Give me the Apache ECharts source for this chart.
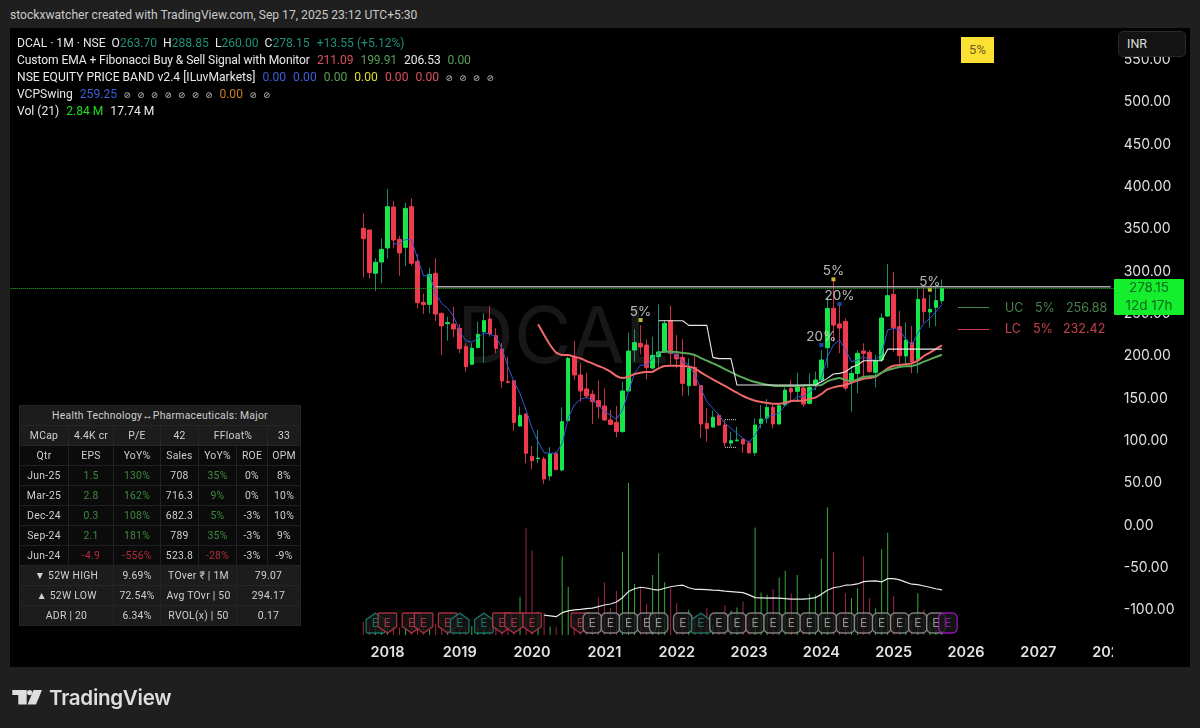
<!DOCTYPE html>
<html><head><meta charset="utf-8">
<script src="https://cdn.jsdelivr.net/npm/echarts@6/dist/echarts.min.js"></script>
<style>
html,body{margin:0;padding:0;background:#1f1f1f;width:1200px;height:728px;overflow:hidden;font-family:Roboto,"Liberation Sans",sans-serif;}
.abs{position:absolute;white-space:nowrap;}
#pane{left:10px;top:28px;width:1180px;height:639px;background:#000;}
#wm{left:457px;top:286px;font-family:Inter;font-size:79px;color:#171717;}
#chart{position:absolute;left:0;top:0;width:1200px;height:728px;}
.lg{left:17px;font-size:12.1px;line-height:17px;color:#e8e8e8;}
.lg span{margin-left:7px;}
.t{color:#1f8f78;} .r{color:#d9505c;} .g{color:#5a9e58;} .b{color:#3c5ed6;} .y{color:#e4dd2c;} .o{color:#cc7d1f;} .bg{color:#1ee01e;}
.na{font-size:8.5px;color:#ccc;margin-left:6.5px!important;font-family:"DejaVu Sans";}
#tb{left:19px;top:405px;border-collapse:collapse;table-layout:fixed;width:281px;font-size:10.4px;color:#cfcfcf;}
#tb td{height:19px;padding:0;text-align:center;border:1px solid #222;background:#0b0b0b;letter-spacing:.25px;overflow:hidden;}
#tb tr.h td{background:#1c1c1c;border-color:#252525;}
#tb .up{color:#3f8a3f;} #tb .dn{color:#b02c3c;}
</style></head><body>
<div class="abs" style="left:10px;top:8px;font-size:12.1px;color:#c9c9c9;">stockxwatcher created with TradingView.com, Sep 17, 2025 23:12 UTC+5:30</div>
<div class="abs" id="pane"></div>
<div class="abs" id="wm">DCAL</div>
<div id="chart"></div>

<div class="abs lg" style="top:35px;">DCAL · 1M · NSE &nbsp;O<b class="t" style="font-weight:400">263.70</b> &nbsp;H<b class="t" style="font-weight:400">288.85</b> &nbsp;L<b class="t" style="font-weight:400">260.00</b> &nbsp;C<b class="t" style="font-weight:400">278.15</b><span class="t">+13.55 (+5.12%)</span></div>
<div class="abs lg" style="top:52px;letter-spacing:-.1px;">Custom EMA + Fibonacci Buy &amp; Sell Signal with Monitor<span class="r">211.09</span><span class="g">199.91</span><span>206.53</span><span class="g">0.00</span></div>
<div class="abs lg" style="top:69px;">NSE EQUITY PRICE BAND v2.4 [ILuvMarkets]<span class="b">0.00</span><span class="b">0.00</span><span class="g">0.00</span><span class="y">0.00</span><span class="r">0.00</span><span class="r">0.00</span><span class="na">⊘</span><span class="na">⊘</span><span class="na">⊘</span><span class="na">⊘</span></div>
<div class="abs lg" style="top:86px;">VCPSwing<span class="b">259.25</span><span class="na">⊘</span><span class="na">⊘</span><span class="na">⊘</span><span class="na">⊘</span><span class="na">⊘</span><span class="na">⊘</span><span class="na">⊘</span><span class="o">0.00</span><span class="na">⊘</span><span class="na">⊘</span></div>
<div class="abs lg" style="top:103px;">Vol (21)<span class="bg">2.84 M</span><span>17.74 M</span></div>

<div class="abs" style="left:961px;top:37px;width:33px;height:26px;background:#fde132;color:#6a5e1e;font-size:13px;line-height:26px;text-align:center;">5%</div>
<div class="abs" style="left:1118px;top:31px;width:68px;height:26px;box-sizing:border-box;background:#131313;border:1px solid #2b2b2b;border-radius:5px;color:#ddd;font-size:12.5px;line-height:24px;padding-left:8px;">INR</div>
<div class="abs" style="left:1114px;top:279px;width:70px;height:36px;background:#15ee2c;color:#0c6a20;font-family:Inter;font-size:13.5px;line-height:17.5px;text-align:center;border-radius:1px;">278.15<br>12d 17h</div>
<div class="abs" style="left:1113px;top:640px;width:30px;height:26px;background:#000;"></div>

<div class="abs" style="left:958px;top:307px;width:31px;height:1px;background:#3f8a3f;"></div>
<div class="abs" style="left:958px;top:329px;width:31px;height:1px;background:#d03a47;"></div>
<div class="abs" style="left:1005px;top:300px;font-family:Inter;font-size:12.5px;color:#4b7f4b;">UC</div><div class="abs" style="left:1035px;top:300px;font-family:Inter;font-size:12.5px;color:#4b7f4b;">5%</div><div class="abs" style="left:1066px;top:300px;font-family:Inter;font-size:12.5px;color:#4b7f4b;">256.88</div>
<div class="abs" style="left:1005px;top:321px;font-family:Inter;font-size:12.5px;color:#c8404c;">LC</div><div class="abs" style="left:1033px;top:321px;font-family:Inter;font-size:12.5px;color:#c8404c;">5%</div><div class="abs" style="left:1063px;top:321px;font-family:Inter;font-size:12.5px;color:#c8404c;">232.42</div>

<table class="abs" id="tb">
<colgroup><col style="width:49px"><col style="width:45px"><col style="width:47px"><col style="width:38px"><col style="width:38px"><col style="width:31px"><col style="width:33px"></colgroup>
<tr class="h"><td colspan="7">Health Technology↔Pharmaceuticals: Major</td></tr>
<tr class="h"><td>MCap</td><td>4.4K cr</td><td>P/E</td><td>42</td><td colspan="2">FFloat%</td><td>33</td></tr>
<tr><td>Qtr</td><td>EPS</td><td>YoY%</td><td>Sales</td><td>YoY%</td><td>ROE</td><td>OPM</td></tr>
<tr><td>Jun-25</td><td class="up">1.5</td><td class="up">130%</td><td>708</td><td class="up">35%</td><td>0%</td><td>8%</td></tr>
<tr><td>Mar-25</td><td class="up">2.8</td><td class="up">162%</td><td>716.3</td><td class="up">9%</td><td>0%</td><td>10%</td></tr>
<tr><td>Dec-24</td><td class="up">0.3</td><td class="up">108%</td><td>682.3</td><td class="up">5%</td><td>-3%</td><td>10%</td></tr>
<tr><td>Sep-24</td><td class="up">2.1</td><td class="up">181%</td><td>789</td><td class="up">35%</td><td>-3%</td><td>9%</td></tr>
<tr><td>Jun-24</td><td class="dn">-4.9</td><td class="dn">-556%</td><td>523.8</td><td class="dn">-28%</td><td>-3%</td><td>-9%</td></tr>
<tr class="h"><td colspan="2">▼ 52W HIGH</td><td>9.69%</td><td colspan="2">TOver ₹ | 1M</td><td colspan="2">79.07</td></tr>
<tr class="h"><td colspan="2">▲ 52W LOW</td><td>72.54%</td><td colspan="2">Avg TOvr | 50</td><td colspan="2">294.17</td></tr>
<tr class="h"><td colspan="2">ADR | 20</td><td>6.34%</td><td colspan="2">RVOL(x) | 50</td><td colspan="2">0.17</td></tr>
</table>

<svg class="abs" style="left:0;top:680px;" width="50" height="30"><path d="M12.3 10H26.7V24.5H18.3V15H12.3Z M33.5 10H42L36 24.5H27.5Z" fill="#dedede"/><circle cx="29.6" cy="12.6" r="2.7" fill="#dedede"/></svg>
<div class="abs" style="left:49px;top:685px;font-family:Inter;font-size:20.6px;font-weight:600;color:#dedede;letter-spacing:-.3px;">TradingView</div>

<script>
const firstCandleIndex = 58;
const opens=[349.2,347.2,296.1,309.4,326.0,374.4,336.2,326.8,374.8,310.2,261.8,259.4,296.1,248.8,236.6,236.2,231.1,209.4,188.6,208.3,227.2,242.1,222.4,206.7,168.1,169.3,115.8,129.9,79.9,77.2,76.8,56.7,83.1,63.8,122,197.6,176,159.5,153.2,145.7,139.4,122.8,120.1,109.1,157.1,205.5,213.4,211.4,184.2,197.6,203.5,240.1,200.4,196.8,163.4,185,163.4,118.9,114.5,128.3,116.9,95.6,98.4,100,95.6,84.2,118.5,125.2,137.8,118.1,140.5,160.2,156.7,160.6,142.5,164.2,170.1,208.2,254.7,236.2,239.3,168.5,177.9,204.3,202.7,179.1,193.7,245.6,271.2,233,198.4,214.2,194.5,266.1,250.4,255.9,263.7];
const closes=[337.0,296.9,309.1,324.4,374.8,335.4,320.1,372.8,307.9,261.4,259.1,294.9,248.0,233.9,237.8,230.3,207.1,185.8,207.5,224.0,240.2,224.4,207.5,168.9,167.3,119.7,128.3,83.5,74.8,78.0,53.2,82.7,64.2,120.9,195.7,176,157.1,151.2,144.5,138.6,122.8,117.7,109.1,157.1,204.3,214.2,209.1,185,199.2,203.1,237,201.6,194.9,166.1,184.2,163.8,118.1,112.6,126,116.9,96,98.4,99.2,94.5,84.2,116.9,124,137.8,118.1,139.7,158.2,155.9,161.8,141.7,161.4,170.1,193.7,254.7,235,231.5,160.6,177.9,201.6,201.6,179.9,192.9,243.3,269.7,231.9,198.8,217.3,191.7,265.3,250.8,253.5,263.8,278.15];
const lows=[291.0,290.2,275.2,284.3,313.8,325.6,293.3,304.7,305.1,254.7,248.0,248.8,239.8,199.6,216.5,220.5,201.6,179.9,187.8,207.5,190.6,221.3,201.6,161.0,166.1,110.2,115.0,71.7,64.6,71.7,47.3,51.2,63.8,62,121,170.1,144.5,148.4,118.1,124.8,122,116.9,102.4,108,156,191.7,200.4,170.9,182.7,185.8,201.6,187.8,183.8,151.6,151.6,163,101.2,97.2,114,116,91.3,91.3,97.2,84.2,82.7,80.7,113,118.9,113,117.7,138.6,146.4,143.7,138.6,141.3,158.2,168.1,184.6,215.3,201.6,157.5,132.7,154.3,174,178.7,161.4,191.7,244.9,203.5,189.7,187.8,177.9,177.9,237.8,231.9,233.8,260];
const highs=[366.9,348,313.8,337.4,395.7,381.5,340.2,379.5,384.6,318.9,272.4,302.8,313.8,249.6,244.9,256.7,236.2,213.4,213.4,239.0,248.8,257.5,231.1,213.4,197.6,170.1,138.6,130.7,92.1,111.0,79.5,90.6,85.4,137.8,197.6,216.1,189.8,178.7,158.3,169.3,160.2,134.6,139.4,168.1,226,229.9,235,218.1,221.2,259.4,240.9,257.9,223.2,218.1,195.6,199.6,164.2,136.6,133.8,130.7,122.8,109,114.9,101.2,98.4,124.8,140.5,147.6,140.5,142.5,161.4,170.1,178.7,163,177.9,179.9,205.5,267.3,288.2,258.6,242.9,186.6,205.5,213.4,205.5,199.6,248.8,307.1,298,251.6,238.2,234.2,278.3,279.5,270.5,280.3,288.85];
const volumes=[5.2,3,3,2,6,4,3,2.5,3,4,3,2,4.5,3,2,2,3,3,3.5,3,3,3,3,2.5,2,5,15.1,42,33.2,9.2,8.7,3.3,3.2,30.9,19,5.9,6,5,5,14.8,20.8,10.5,17.3,32.8,59.8,20.1,18.4,12.2,23.6,32.2,20.8,18.4,12.7,6,9.9,6,5,10.5,4,4,11.8,9.6,10.8,13.1,7,42.3,16.7,15.8,18.1,22.6,25.3,16.4,23.6,8,16.2,15.8,30,50.3,32.6,8,16.4,14.5,18.4,30.9,14.5,10.5,33.8,40.3,15.4,8,7,6,16.4,9.9,5,4,2.84];
const blueStart=6;
const blueLine=[330.7,331.5,336.2,335.4,313.8,292.9,294.1,272.4,260.6,254.7,244.9,227.2,216.5,214.6,219.3,226,224.4,221.3,207.5,185.8,168.1,154.3,134.6,113,97.2,84.2,83.5,83.5,95.3,124.8,140.5,147.2,149.6,146.5,140.5,132.7,128.7,123.6,134.6,156.3,178,187.8,187.8,195.6,201.6,203.5,202.3,199.6,191.7,187.8,176,160.2,144.5,136.6,128.7,118.9,113,107.1,101.2,96.4,105.1,118.9,126.7,128.7,130.7,140.5,144.5,150.4,150.4,156.3,160.2,172,197.6,211.4,217.3,205.5,191.7,193.7,197.6,193.7,193.7,201.6,229.1,231.1,229.1,218.1,211.4,225.2,237,242.9,250.8,259.25];
const redStart=30;
const redLine=[235.8,223.2,211.4,202.4,199.6,199.6,197.6,195.7,192.5,189.8,186.6,183.9,179.9,174.8,172.4,174,177.2,178.7,179.5,179.9,183.8,186.6,187,187,186.6,185.8,183.8,179.1,174.8,170.8,166.9,163,159,155.1,151.2,148,145.6,144.1,142.9,142.1,142.1,143.3,145.2,145.6,145.6,147.6,149.2,153.5,159,161.4,163,164.2,166.9,169.3,171.6,172.4,174,178.7,183.8,187,187.8,188.6,189.7,192.9,198.4,202.3,206.7,211.09];
const greenStart=50;
const greenLine=[202.3,203.5,203.5,203.1,201.9,201.5,199.6,196,192.9,189.7,186.6,183,179.5,175.9,172.8,170,167.7,166.1,164.5,163.4,163,163,163,163,163.4,163.8,163.8,164.2,168.5,170.8,172.4,170,168.9,170.8,174,174.4,174.8,178.7,181.9,183.8,185.4,186.2,186.6,188.6,191.7,194.5,197.2,199.91];
const whiteStart=50;
const whiteLine=[240.1,240.1,240.1,240.1,240.1,234.6,234.6,234.6,234.6,196.8,195.3,195.3,195.3,164.1,164.1,164.1,164.1,164.1,164.1,164.1,164.1,164.1,164.1,164.1,164.1,164.1,164.1,168.1,172,177.1,177.9,179.9,185,187.8,192.9,192.9,192.9,192.9,206.53,206.53,206.53,206.53,206.53,206.53,206.53,206.53,206.53,206.53];
const volMaStart=31;
const volMa=[7.8,7.5,7.2,8.8,9.5,9.9,10.1,10.4,10.6,11.2,11.8,12.2,13,14.7,17.1,18.2,18.8,18.5,18,17.7,18.4,19,19.4,19.6,18.6,18,18,17.9,17.7,17.6,17.3,17.1,16.9,16.7,15.8,14.7,14.6,14.5,14.6,14.5,14.3,14.1,14.1,14.1,14.3,14.7,16,17.6,18.6,19,19.6,19.7,20.1,21,21.2,21.3,20.9,22.2,22.2,21.7,20.8,20,19.8,19.3,18.8,18.2,17.74];
const resistanceStart=13, resistanceValue=280.3, lastPrice=278.15;
const fibStart=61, fibUpper=[123.2,123.2,123.2], fibLower=[90.5,90.5,90.5];
const yellowCandles=[47,79,95], yellowValues=[240.9,289,276.7], yellowLabels=['5%','5%','5%'];
const blueCandles=[77,80], blueValues=[211.4,259.8], blueLabels=['20%','20%'];
const earningsCandles=[3,5,9,11,15,17,21,24,26,29,37,39,42,45,48,50,54,57,60,63,66,69,72,75,78,81,84,87,90,93,96,98];
const earningsKinds=['up','down','down','down','down','up','up','down','down','down','down','flat','flat','flat','flat','flat','flat','up','flat','flat','flat','flat','flat','flat','flat','flat','flat','flat','flat','flat','flat','next'];
const badgeY=4.7;
const yTicksHidden=[600,-150];

const categories=[];
for(let i=0,y=2012,m=11;i<183;i++){categories.push(y+'-'+String(m).padStart(2,'0'));m++;if(m>12){m=1;y++;}}
const idx=n=>firstCandleIndex+n-1;
const pad=(arr,start)=>new Array(idx(start)).fill('-').concat(arr);
const wicks=opens.map((o,i)=>[o,closes[i],lows[i],highs[i]]);
const bodies=opens.map((o,i)=>[o,closes[i],Math.min(o,closes[i]),Math.max(o,closes[i])]);
const UP='#14e64c',DN='#ef3a4e',UPW='#1c8a6c',DNW='#c7324a';
const volData=volumes.map((v,i)=>({value:v,itemStyle:{color:closes[i]>=opens[i]?'#3aa83a':'#a32449'}}));
const badge={up:{s:'path://M10 0L20 6.5V19Q20 20 19 20H1Q0 20 0 19V6.5Z',c:'#1b8a78',t:'#1b8a78'},down:{s:'path://M1 0H19Q20 0 20 1V13.5L10 20L0 13.5V1Q0 0 1 0Z',c:'#c8374a',t:'#c8374a'},flat:{s:'roundRect',c:'#9a9a9a',t:'#b0b0b0'},next:{s:'roundRect',c:'#b416d8',t:'#b416d8'}};
const badges=earningsCandles.map((n,i)=>{const b=badge[earningsKinds[i]];return{value:[idx(n),badgeY],symbol:b.s,itemStyle:{color:'#181818',borderColor:b.c,borderWidth:1.4},label:{color:b.t}};});
const sig=(ns,vs,ls)=>ns.map((n,i)=>({value:[idx(n),vs[i]],label:{formatter:ls[i]}}));
const baseAxisX={type:'category',data:categories,boundaryGap:true,axisLine:{show:false},axisTick:{show:false},splitLine:{show:false}};
const chart=echarts.init(document.getElementById('chart'),null,{renderer:'canvas'});
chart.setOption({
 backgroundColor:'transparent',animation:false,
 grid:[{left:10.7,top:16,width:1103,height:635},{left:10.7,top:381,width:1103,height:254}],
 xAxis:[
  Object.assign({},baseAxisX,{gridIndex:0,axisLabel:{margin:-6,fontFamily:'Inter',fontSize:14.5,fontWeight:600,color:'#e4e4e4',
    interval:(i,v)=>v.endsWith('-01')&&+v.slice(0,4)>=2018,formatter:v=>v.slice(0,4)}}),
  Object.assign({},baseAxisX,{gridIndex:1,axisLabel:{show:false}})
 ],
 yAxis:[
  {type:'value',gridIndex:0,position:'right',min:-150,max:600,interval:50,splitLine:{show:false},axisLine:{show:false},axisTick:{show:false},
   axisLabel:{margin:10,fontFamily:'Inter',fontSize:14,color:'#e0e0e0',formatter:v=>yTicksHidden.includes(v)?' ':'{a|'+v.toFixed(2)+'}',
    rich:{a:{fontFamily:'Inter',fontSize:14,color:'#e0e0e0',padding:[3,0,0,0]}}}},
  {type:'value',gridIndex:1,min:0,max:100,show:false}
 ],
 series:[
  {type:'bar',name:'Volume',xAxisIndex:1,yAxisIndex:1,data:pad(volData,1),barWidth:1,silent:true},
  {type:'line',name:'Vol MA',xAxisIndex:1,yAxisIndex:1,data:pad(volMa,volMaStart),symbol:'none',lineStyle:{color:'#e8e8e8',width:1.2},silent:true},
  {type:'line',name:'Resistance',data:new Array(idx(resistanceStart)).fill('-').concat(new Array(183-idx(resistanceStart)).fill(resistanceValue)),symbol:'none',lineStyle:{color:'#a8a8a8',width:1.5},silent:true},
  {type:'candlestick',name:'DCAL wicks',data:pad(wicks,1),barWidth:1,itemStyle:{color:UPW,color0:DNW,borderColor:UPW,borderColor0:DNW,borderWidth:1},
   markLine:{silent:true,symbol:'none',label:{show:false},lineStyle:{color:'#2fb52f',type:'dotted',width:1},data:[{yAxis:lastPrice}]}},
  {type:'line',name:'VCPSwing',data:pad(blueLine,blueStart),symbol:'none',lineStyle:{color:'#3058d8',width:1},silent:true},
  {type:'candlestick',name:'DCAL',data:pad(bodies,1),barWidth:4,itemStyle:{color:UP,color0:DN,borderColor:UP,borderColor0:DN,borderWidth:1}},
  {type:'line',name:'EMA fast',data:pad(redLine,redStart),symbol:'none',smooth:.2,lineStyle:{color:'#f0686a',width:2},silent:true},
  {type:'line',name:'EMA slow',data:pad(greenLine,greenStart),symbol:'none',smooth:.2,lineStyle:{color:'#5aa85a',width:2},silent:true},
  {type:'line',name:'Fib',data:pad(whiteLine,whiteStart),symbol:'none',lineStyle:{color:'#e8e8e8',width:1.1},silent:true},
  {type:'line',name:'Upper dots',data:pad(fibUpper,fibStart),symbol:'none',lineStyle:{color:'#ddd',width:1,type:'dotted'},silent:true},
  {type:'line',name:'Lower dots',data:pad(fibLower,fibStart),symbol:'none',lineStyle:{color:'#ddd',width:1,type:'dotted'},silent:true},
  {type:'scatter',name:'Price band 5%',symbol:'rect',symbolSize:4,data:sig(yellowCandles,yellowValues,yellowLabels),itemStyle:{color:'#f2e33a'},label:{show:true,position:'top',distance:-1,fontFamily:'Inter',fontSize:13.5,color:'#e2e2e2'},silent:true},
  {type:'scatter',name:'Price band 20%',symbol:'rect',symbolSize:4,data:sig(blueCandles,blueValues,blueLabels),itemStyle:{color:'#2d55d8'},label:{show:true,position:'top',distance:-1,fontFamily:'Inter',fontSize:13.5,color:'#e2e2e2'},silent:true},
  {type:'scatter',name:'Earnings',xAxisIndex:1,yAxisIndex:1,symbolSize:[18.5,20],data:badges,z:5,label:{show:true,position:'inside',formatter:'E',fontFamily:'Inter',fontSize:12},silent:true}
 ]
});
</script>
</body></html>
